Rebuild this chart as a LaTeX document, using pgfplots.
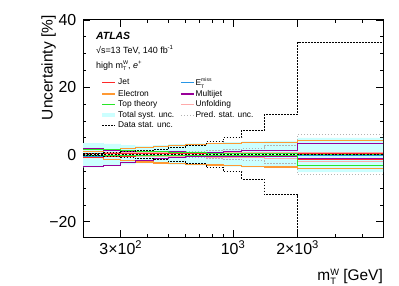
\documentclass[border=0pt]{standalone}
\usepackage{fontspec}
\setmainfont{Liberation Sans}
\usepackage{pgfplots}
\usepackage{pgfplotstable}
\pgfplotsset{compat=1.18}
\makeatletter
\newcommand\supsub[2]{\raisebox{-0.5ex}{\fontsize{\strip@pt\dimexpr0.6\dimexpr\f@size pt\relax\relax}{0}\selectfont\shortstack[l]{#1\\#2}}}
\makeatother
\definecolor{jetred}{RGB}{255,40,40}
\definecolor{elorange}{RGB}{255,153,51}
\definecolor{topgreen}{RGB}{40,230,40}
\definecolor{systcyan}{RGB}{204,255,255}
\definecolor{metblue}{RGB}{40,150,230}
\definecolor{mjpurple}{RGB}{153,0,153}
\definecolor{unfpink}{RGB}{255,170,170}
\definecolor{predgray}{RGB}{179,179,179}
\pgfplotsset{shortline/.style={legend image code/.code={\draw[##1] (0bp,0bp) -- (13bp,0bp);}}}
\pgfplotstableread{
x     dstat systU systD elU  elD  mjU  mjD  topU topD jetU jetD metU metD unfU unfD pred
200   0.4   3.4  -3.8  1.0  -1.0 1.8  -3.6 1.5  -0.4 0.4  -0.8 0.3  -0.6 0.8  -0.8 0.3
250   0.5   3.2  -3.4  1.5  -1.4 1.2  -3.2 1.4  -0.3 0.3  -0.6 0.3  -0.4 0.7  -0.7 0.3
300   0.8   2.8  -2.9  1.9  -1.8 0.9  -2.4 1.2  -0.3 0.3  -0.5 0.2  -0.3 0.6  -0.6 0.4
350   1.2   2.6  -2.6  2.2  -2.2 0.9  -1.8 1.0  -0.3 0.3  -0.4 0.2  -0.3 0.5  -0.5 0.5
425   1.6   2.8  -2.8  2.5  -2.5 0.9  -1.2 0.8  -0.3 0.2  -0.3 0.2  -0.2 0.5  -0.5 0.6
500   2.1   3.1  -3.0  2.8  -2.7 0.8  -0.8 0.6  -0.2 0.2  -0.3 0.2  -0.2 0.5  -0.6 0.7
600   2.8   3.3  -3.2  3.0  -2.9 0.6  -0.6 0.5  -0.2 0.2  -0.3 0.2  -0.2 0.5  -0.7 0.9
750   3.8   3.5  -3.4  3.2  -3.1 0.6  -0.6 0.4  -0.2 0.2  -0.3 0.2  -0.2 0.5  -0.8 1.1
900   5.0   3.7  -3.6  3.4  -3.3 1.0  -0.5 0.3  -0.2 0.2  -0.4 0.2  -0.2 0.5  -0.9 1.4
1100  7.3   3.9  -3.8  3.6  -3.5 1.2  -0.5 0.3  -0.2 0.3  -0.5 0.2  -0.2 0.6  -1.0 1.8
1400  11.9  4.1  -4.0  3.7  -3.7 1.3  -0.6 0.3  -0.2 0.3  -0.6 0.2  -0.2 0.6  -1.2 2.6
2000  33.4  5.0  -5.2  4.1  -4.2 3.2  -1.1 0.1  -3.3 0.4  -1.4 0.3  -0.3 0.6  -2.0 6.0
5000  33.4  5.0  -5.2  4.1  -4.2 3.2  -1.1 0.1  -3.3 0.4  -1.4 0.3  -0.3 0.6  -2.0 6.0
}\data
\begin{document}
\begin{tikzpicture}
\begin{axis}[
  at={(83bp,49bp)}, anchor=south west,
  scale only axis, width=300bp, height=217bp,
  xmode=log, xmin=200, xmax=5000, ymin=-24.5, ymax=40,
  xtick={300,1000,2000},
  xticklabels={3×10\textsuperscript{2}, 10\textsuperscript{3}, 2×10\textsuperscript{3}},
  minor xtick={200,400,500,600,700,800,900,3000,4000,5000},
  ytick={-20,0,20,40}, yticklabels={−20,0,20,40},
  minor ytick={-15,-10,-5,5,10,15,25,30,35},
  tick align=inside, tick pos=both,
  major tick length=7bp, minor tick length=3.5bp,
  axis line style={line width=1bp},
  every tick/.style={black, line width=0.8bp},
  tick label style={font=\fontsize{16}{19}\selectfont},
  yticklabel style={inner xsep=6.5bp},
  xlabel={m\supsub{W}{T} [GeV]},
  ylabel={Uncertainty [\%]},
  label style={font=\fontsize{15.5}{18}\selectfont},
  xlabel style={at={(axis description cs:1,-0.145)}, anchor=north east, inner sep=0pt},
  ylabel style={at={(axis description cs:-0.09,1.022)}, anchor=south east, inner sep=0pt},
  legend columns=2,
  legend cell align=left,
  shortline,
  legend style={at={(0.055,0.738)}, anchor=north west, draw=none, fill=none,
    font=\fontsize{8.4}{9}\selectfont, inner sep=0pt,
    row sep=1.1bp,
    nodes={inner sep=0.9bp},
    /tikz/every even column/.append style={column sep=5bp}},
]
\addlegendimage{jetred, line width=1.5bp}
\addlegendimage{metblue, line width=1.5bp}
\addlegendimage{elorange, line width=1.5bp}
\addlegendimage{mjpurple, line width=1.5bp}
\addlegendimage{topgreen, line width=1.5bp}
\addlegendimage{unfpink, line width=1.5bp}
\addlegendimage{systcyan, line width=4.6bp}
\addlegendimage{predgray, line width=0.9bp, dash pattern=on 1.5bp off 1.5bp}
\addlegendimage{black, line width=1.1bp, dash pattern=on 1.8bp off 1.2bp}
\legend{Jet, E\supsub{miss}{T}, Electron, Multijet, Top theory, Unfolding, Total syst. unc., Pred. stat. unc., Data stat. unc.}

% total systematic band (upper and lower halves closed to zero)
\addplot[fill=systcyan, draw=none, const plot mark left, forget plot] table[x=x,y=systU]{\data} \closedcycle;
\addplot[fill=systcyan, draw=none, const plot mark left, forget plot] table[x=x,y=systD]{\data} \closedcycle;

% pred stat
\addplot[predgray, line width=0.8bp, dash pattern=on 1.5bp off 1.5bp, const plot mark left, forget plot] table[x=x,y=pred]{\data};
\addplot[predgray, line width=0.8bp, dash pattern=on 1.5bp off 1.5bp, const plot mark left, forget plot] table[x=x,y expr=-\thisrow{pred}]{\data};

% components
\addplot[unfpink, line width=1.1bp, const plot mark left, forget plot] table[x=x,y=unfU]{\data};
\addplot[unfpink, line width=1.1bp, const plot mark left, forget plot] table[x=x,y=unfD]{\data};
\addplot[elorange, line width=1.1bp, const plot mark left, forget plot] table[x=x,y=elU]{\data};
\addplot[elorange, line width=1.1bp, const plot mark left, forget plot] table[x=x,y=elD]{\data};
\addplot[metblue, line width=1.1bp, const plot mark left, forget plot] table[x=x,y=metU]{\data};
\addplot[metblue, line width=1.1bp, const plot mark left, forget plot] table[x=x,y=metD]{\data};
\addplot[jetred, line width=1.1bp, const plot mark left, forget plot] table[x=x,y=jetU]{\data};
\addplot[jetred, line width=1.1bp, const plot mark left, forget plot] table[x=x,y=jetD]{\data};
\addplot[mjpurple, line width=1.1bp, const plot mark left, forget plot] table[x=x,y=mjU]{\data};
\addplot[mjpurple, line width=1.1bp, const plot mark left, forget plot] table[x=x,y=mjD]{\data};
\addplot[topgreen, line width=1.1bp, const plot mark left, forget plot] table[x=x,y=topU]{\data};
\addplot[topgreen, line width=1.1bp, const plot mark left, forget plot] table[x=x,y=topD]{\data};

% zero line
\addplot[black, line width=0.8bp, dash pattern=on 2bp off 1.5bp, forget plot] coordinates {(200,0) (5000,0)};

% data stat
\addplot[black, line width=1bp, dash pattern=on 1.8bp off 1.2bp, const plot mark left, forget plot] table[x=x,y=dstat]{\data};
\addplot[black, line width=1bp, dash pattern=on 1.8bp off 1.2bp, const plot mark left, forget plot] table[x=x,y expr=-\thisrow{dstat}]{\data};

\node[anchor=base west, inner sep=0pt, font=\fontsize{10.5}{12}\selectfont\bfseries\itshape] at (rel axis cs:0.043,0.912) {ATLAS};
\node[anchor=base west, inner sep=0pt, font=\fontsize{9}{11}\selectfont] at (rel axis cs:0.043,0.846) {√s=13 TeV, 140 fb\textsuperscript{-1}};
\node[anchor=base west, inner sep=0pt, font=\fontsize{9}{11}\selectfont] at (rel axis cs:0.043,0.777) {high m\supsub{W}{T}, \textit{e}\textsuperscript{+}};
\end{axis}
\useasboundingbox (0,0) rectangle (399bp,286bp);
\end{tikzpicture}
\end{document}
